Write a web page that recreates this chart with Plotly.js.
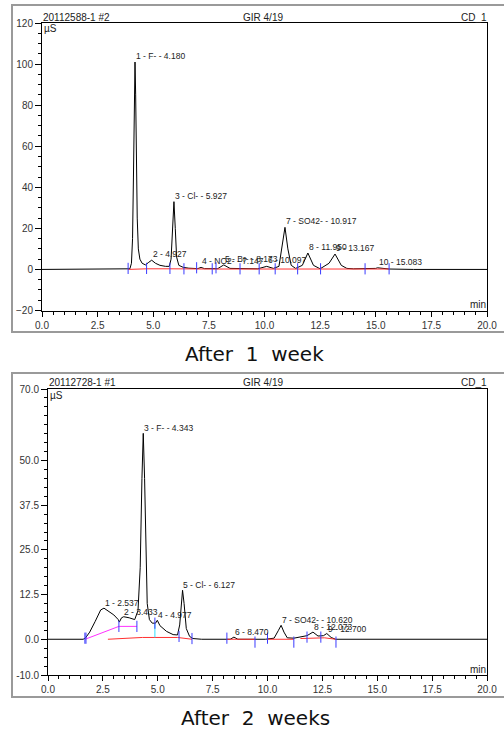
<!DOCTYPE html>
<html>
<head>
<meta charset="utf-8">
<script src="https://cdn.plot.ly/plotly-3.0.1.min.js"></script>
<style>html,body{margin:0;padding:0;background:#fff;}#chart{width:504px;height:731px;}</style>
</head>
<body>
<div id="chart"></div>
<script>
// ---------- After 1 week (top chromatogram) ----------
const topTime = [0, 3.85, 3.95, 4.02, 4.07, 4.11, 4.15, 4.18, 4.21, 4.24, 4.28, 4.33, 4.40, 4.50, 4.65, 4.80, 4.93, 5.10, 5.30, 5.55, 5.72, 5.80, 5.86, 5.93, 5.99, 6.05, 6.15, 6.35, 6.60, 7.00, 7.15, 7.30, 7.90, 8.17, 8.45, 9.00, 9.70, 10.10, 10.40, 10.65, 10.78, 10.92, 11.05, 11.20, 11.40, 11.70, 11.95, 12.20, 12.50, 12.90, 13.17, 13.45, 13.70, 14.00, 15.00, 15.08, 15.60, 16.70, 20];
const topSignal = [0, 0, 0.3, 3, 15, 45, 85, 101, 85, 55, 25, 10, 5, 3, 2.2, 3.5, 4.5, 3, 2, 1.5, 1.5, 5, 20, 33, 20, 6, 2, 1, 0.6, 0.4, 1, 0.4, 0.4, 2.2, 0.5, 0.3, 0.3, 1.5, 0.5, 1.5, 10, 20.5, 10, 2, 0.5, 2, 8, 2, 0.3, 3, 7.5, 2, 0.5, 0.3, 0.5, 0.8, 0.2, 0, 0];
const topBaseTime = [3.87, 4.7, 5.75, 6.38, 7.65, 9.76, 10.48, 11.49, 12.52, 14.52, 15.6];
const topBaseVal = [0, 0.3, 0.3, 0.2, 0.2, 0.2, 0.2, 0.2, 0.2, 0.2, 0.2];
const topMarkTime = [3.87, 4.70, 5.75, 6.38, 6.95, 7.65, 7.82, 8.90, 9.76, 10.48, 11.49, 12.52, 14.52, 15.60];
const topMarkVal = [0.5, 0.5, 0.5, 0.3, 0.8, 0.3, 0.8, 0.3, 0.3, 0.3, 0.3, 0.3, 0.3, 0.3];
const topPeakLabels = ['1 - F- - 4.180', '2 - 4.927', '3 - Cl- - 5.927', '4 - NO2- - 7.147', '5 - Br- - 8.173', '6 - 10.097', '7 - SO42- - 10.917', '8 - 11.950', '9 - 13.167', '10 - 15.083'];
const topPeakTime = [4.180, 4.927, 5.927, 7.147, 8.173, 10.097, 10.917, 11.950, 13.167, 15.083];
const topPeakHeight = [101, 4.5, 33, 1, 2.2, 1.5, 20.5, 8, 7.5, 0.8];

// ---------- After 2 weeks (bottom chromatogram) ----------
const botTime = [0, 1.60, 1.70, 1.90, 2.15, 2.40, 2.55, 2.75, 3.00, 3.20, 3.25, 3.35, 3.45, 3.70, 3.95, 4.10, 4.20, 4.28, 4.34, 4.40, 4.45, 4.52, 4.62, 4.75, 4.90, 4.98, 5.10, 5.40, 5.70, 5.90, 6.00, 6.07, 6.13, 6.20, 6.30, 6.45, 6.60, 7.00, 8.30, 8.47, 8.65, 9.90, 10.30, 10.50, 10.62, 10.75, 10.90, 11.20, 11.50, 11.80, 12.07, 12.30, 12.55, 12.70, 12.90, 13.10, 20];
const botSignal = [0, 0, 0.3, 2, 5, 8.2, 8.7, 7.8, 6.8, 5.5, 4.8, 6, 6.3, 6, 5.5, 8, 20, 45, 57.6, 45, 25, 10, 5.5, 4.5, 4.5, 5.3, 3.8, 2.2, 1.3, 1.2, 4, 11, 13.7, 10, 3, 0.8, 0.2, 0, 0, 0.6, 0, 0, 0.3, 2.5, 3.9, 2, 0.4, 0.3, 0.7, 1, 2, 0.9, 1, 1.6, 0.5, 0, 0];
const botPinkTime = [1.69, 3.23, 4.05];
const botPinkVal = [0, 3.6, 3.6];
const botRedTime = [2.73, 4.3, 5.9, 6.56, null, 8.15, 9.43, null, 10.0, 11.2, null, 11.5, 12.4, 12.6, 13.1];
const botRedVal = [0, 0.5, 0.5, 0, null, 0, 0, null, 0, 0, null, 0.2, 0.3, 0.4, 0];
const botMarkTime = [1.68, 1.73, 3.23, 4.05, 4.87, 5.97, 6.56, 8.15, 9.43, 10.0, 11.2, 11.8, 12.43, 13.12];
const botMarkVal = [0.3, 0.3, 3.6, 3.6, 4.5, 0.8, 0.2, 0.3, -0.8, 0.3, -0.8, 0.6, 0.6, -0.8];
const botDropTime = [4.87, 4.87];
const botDropVal = [0.5, 4.3];
const botPeakLabels = ['1 - 2.537', '2 - 3.433', '3 - F- - 4.343', '4 - 4.977', '5 - Cl- - 6.127', '6 - 8.470', '7 - SO42- - 10.620', '8 - 12.073', '9 - 12.700'];
const botPeakTime = [2.537, 3.433, 4.343, 4.977, 6.127, 8.470, 10.620, 12.073, 12.700];
const botPeakHeight = [8.7, 6.3, 57.6, 5.3, 13.7, 0.6, 3.9, 2.0, 1.6];

const botYTicks = [-10, 0, 12.5, 25, 37.5, 50, 70];
const botYTickText = ['-10.0', '0.0', '12.5', '25.0', '37.5', '50.0', '70.0'];
const xTicks = [0, 2.5, 5, 7.5, 10, 12.5, 15, 17.5, 20];

const W = 504, H = 731;
const px = v => v / W;
const py = v => 1 - v / H;

const FONT = 'Liberation Sans, Arial, sans-serif';
const blue = '#3a3aff';

function markTrace(t, v, xa, ya) {
  return {x: t, y: v, xaxis: xa, yaxis: ya, type: 'scatter', mode: 'markers', hoverinfo: 'skip',
    marker: {symbol: 'line-ns', size: 8, line: {color: blue, width: 1}}};
}

const traces = [
  {x: topTime, y: topSignal, xaxis: 'x', yaxis: 'y', type: 'scatter', mode: 'lines', line: {color: '#000', width: 1}},
  {x: topBaseTime, y: topBaseVal, xaxis: 'x', yaxis: 'y', type: 'scatter', mode: 'lines', line: {color: '#ff3030', width: 1}},
  markTrace(topMarkTime, topMarkVal, 'x', 'y'),
  {x: botTime, y: botSignal, xaxis: 'x2', yaxis: 'y2', type: 'scatter', mode: 'lines', line: {color: '#000', width: 1}},
  {x: botPinkTime, y: botPinkVal, xaxis: 'x2', yaxis: 'y2', type: 'scatter', mode: 'lines', line: {color: '#ff30ff', width: 1}},
  {x: botRedTime, y: botRedVal, xaxis: 'x2', yaxis: 'y2', type: 'scatter', mode: 'lines', connectgaps: false, line: {color: '#ff3030', width: 1}},
  {x: botDropTime, y: botDropVal, xaxis: 'x2', yaxis: 'y2', type: 'scatter', mode: 'lines', line: {color: '#30e0ff', width: 1}},
  markTrace(botMarkTime, botMarkVal, 'x2', 'y2')
];

const tickFont = {family: FONT, size: 10, color: '#333'};
function xAxis(domain, anchor) {
  return {domain: domain, anchor: anchor, range: [0, 20], tickmode: 'array', tickvals: xTicks,
    ticktext: xTicks.map(v => v.toFixed(1)), ticks: 'outside', ticklen: 5, tickcolor: '#000',
    minor: {tickmode: 'linear', tick0: 0, dtick: 0.5, ticks: 'outside', ticklen: 3, tickcolor: '#000'},
    showline: true, linecolor: '#000', linewidth: 1, mirror: true, showgrid: false, zeroline: false,
    tickfont: tickFont, fixedrange: true};
}
const layout = {
  width: W, height: H, margin: {l: 0, r: 0, t: 0, b: 0}, showlegend: false,
  paper_bgcolor: '#fff', plot_bgcolor: '#fff',
  xaxis: xAxis([px(42), px(487)], 'y'),
  yaxis: {domain: [py(310.5), py(23)], anchor: 'x', range: [-20, 120], tickmode: 'linear', tick0: 0, dtick: 20,
    ticks: 'outside', ticklen: 6, tickcolor: '#000',
    minor: {tickmode: 'linear', tick0: 0, dtick: 5, ticks: 'outside', ticklen: 3, tickcolor: '#000'},
    showline: true, linecolor: '#000', linewidth: 1, mirror: true, showgrid: false, zeroline: false,
    tickfont: tickFont, fixedrange: true},
  xaxis2: xAxis([px(48), px(487)], 'y2'),
  yaxis2: {domain: [py(675), py(389)], anchor: 'x2', range: [-10, 70], tickmode: 'array', tickvals: botYTicks, ticktext: botYTickText,
    ticks: 'outside', ticklen: 6, tickcolor: '#000',
    minor: {tickmode: 'linear', tick0: 0, dtick: 2.5, ticks: 'outside', ticklen: 3, tickcolor: '#000'},
    showline: true, linecolor: '#000', linewidth: 1, mirror: true, showgrid: false, zeroline: false,
    tickfont: tickFont, fixedrange: true},
  shapes: [
    {type: 'rect', xref: 'paper', yref: 'paper', x0: px(12), x1: 1.02, y0: py(332), y1: py(5), line: {color: '#9a9a9a', width: 2}},
    {type: 'rect', xref: 'paper', yref: 'paper', x0: px(12), x1: 1.02, y0: py(697), y1: py(373), line: {color: '#9a9a9a', width: 2}}
  ],
  annotations: []
};

function paperText(text, x, y, xanchor, size, family, color) {
  return {text: text, xref: 'paper', yref: 'paper', x: px(x), y: py(y), xanchor: xanchor, yanchor: 'middle',
    showarrow: false, font: {family: family || FONT, size: size || 10, color: color || '#222'}, borderpad: 0};
}
const A = layout.annotations;
A.push(paperText('20112588-1 #2', 42, 18, 'left'));
A.push(paperText('GIR 4/19', 263, 18, 'center'));
A.push(paperText('CD_1', 488, 18, 'right'));
A.push(paperText('µS', 43, 29, 'left'));
A.push(paperText('min', 487, 304, 'right'));
A.push(paperText('20112728-1 #1', 48, 383, 'left'));
A.push(paperText('GIR 4/19', 263, 383, 'center'));
A.push(paperText('CD_1', 488, 383, 'right'));
A.push(paperText('µS', 49, 395, 'left'));
A.push(paperText('min', 487, 669, 'right'));
A.push(paperText('After  1  week', 254, 354, 'center', 20, 'DejaVu Sans', '#111'));
A.push(paperText('After  2  weeks', 255, 718, 'center', 20, 'DejaVu Sans', '#111'));

topPeakLabels.forEach((lab, i) => {
  A.push({text: lab, xref: 'x', yref: 'y', x: topPeakTime[i], y: topPeakHeight[i], xanchor: 'left', yanchor: 'middle',
    yshift: 6, showarrow: false, borderpad: 0, font: {family: FONT, size: 8.5, color: '#222'}});
});
botPeakLabels.forEach((lab, i) => {
  A.push({text: lab, xref: 'x2', yref: 'y2', x: botPeakTime[i], y: botPeakHeight[i], xanchor: 'left', yanchor: 'middle',
    yshift: 5, showarrow: false, borderpad: 0, font: {family: FONT, size: 8.5, color: '#222'}});
});

Plotly.newPlot('chart', traces, layout, {displayModeBar: false, staticPlot: true});
</script>
</body>
</html>
